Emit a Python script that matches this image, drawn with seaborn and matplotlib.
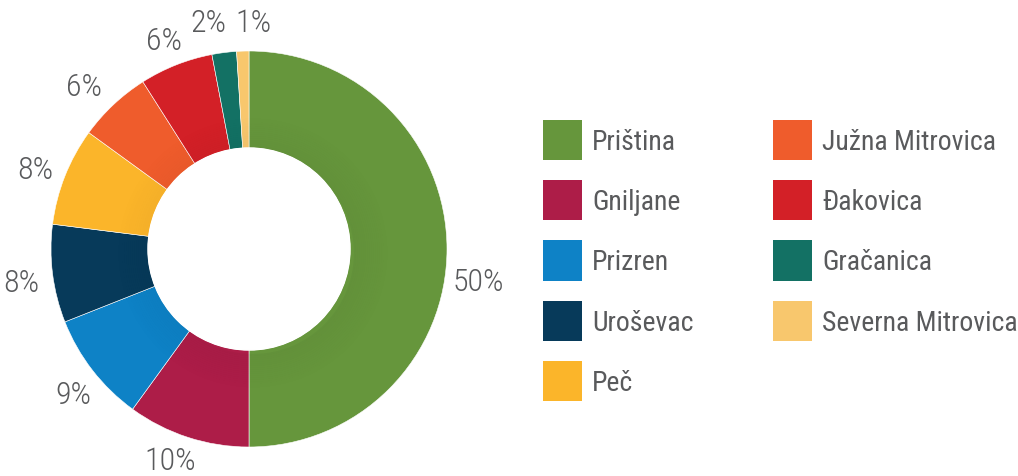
import numpy as np
import matplotlib
matplotlib.use("Agg")
import matplotlib.pyplot as plt
from matplotlib.patches import Wedge, Patch
import seaborn as sns

# data
regions = ["Priština", "Gniljane", "Prizren", "Uroševac", "Peč",
           "Južna Mitrovica", "Đakovica", "Gračanica", "Severna Mitrovica"]
shares = [50, 10, 9, 8, 8, 6, 6, 2, 1]
colors = ["#66963c", "#ad1d48", "#0e82c6", "#073a5a", "#fbb52a",
          "#ef5c2c", "#d32027", "#137164", "#f8c76d"]

sns.set_theme(style="white")
plt.rcParams["font.family"] = ["Roboto Condensed", "Roboto", "DejaVu Sans"]
text_gray = "#595a5c"
palette = sns.color_palette(colors)

fig = plt.figure(figsize=(10.18, 4.77), dpi=100)
ax = fig.add_axes([51 / 1018, 29 / 477, 396 / 1018, 396 / 477])

ring = 1 - 101 / 198
wedges, texts = ax.pie(shares, colors=palette, startangle=90, counterclock=False,
                       radius=1, labels=[f"{s}%" for s in shares], labeldistance=1.16,
                       wedgeprops=dict(width=ring, linewidth=0.4, edgecolor="white"),
                       textprops=dict(color=text_gray, fontsize=23, fontweight="light"))
for t in texts:
    t.set_horizontalalignment("center")
    t.set_verticalalignment("center")
    x, y = t.get_position()
    t.set_position((x, y - 0.025))
# label nudges as in the original
texts[0].set_y(texts[0].get_position()[1] - 0.14)
x1, y1 = texts[1].get_position()
texts[1].set_position((x1 - 0.04, y1 + 0.06))
x2, y2 = texts[2].get_position()
texts[2].set_position((x2 + 0.03, y2))
x5, y5 = texts[5].get_position()
texts[5].set_position((x5 - 0.04, y5))
x7, y7 = texts[7].get_position()
texts[7].set_position((x7 - 0.06, y7 + 0.02))
x8, y8 = texts[8].get_position()
texts[8].set_position((x8 + 0.06, y8 + 0.01))

# soft inner shadow along the hole
r_in = 1 - ring
for k in range(18):
    ax.add_patch(Wedge((0.02, -0.02), r_in + 0.01 * (k + 1), 0, 360, width=0.01,
                       color="black", alpha=0.03 * (1 - k / 18), linewidth=0))
ax.add_patch(plt.Circle((0, 0), r_in, color="white", zorder=5))

ax.set_xlim(-1, 1)
ax.set_ylim(-1, 1)
ax.set_aspect("equal")
ax.axis("off")

handles = [Patch(facecolor=c, edgecolor="none") for c in palette]
leg = fig.legend(handles, regions, ncol=2, loc="upper left",
                 bbox_to_anchor=(543 / 1018, 1 - 121 / 477), frameon=False,
                 fontsize=20, handlelength=1.4, handleheight=1.85,
                 handletextpad=0.36, labelspacing=0.72, columnspacing=2.88,
                 borderpad=0, borderaxespad=0)
for t in leg.get_texts():
    t.set_color(text_gray)

fig.savefig("out.png", dpi=100)
